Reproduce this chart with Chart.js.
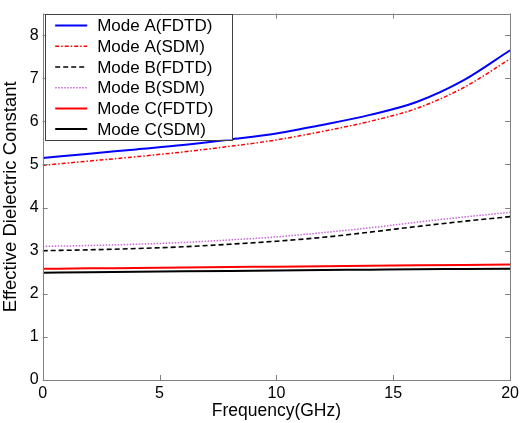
<!DOCTYPE html>
<html>
<head>
<meta charset="utf-8">
<script src="https://cdn.jsdelivr.net/npm/chart.js@4/dist/chart.umd.min.js"></script>
<style>
    html, body { margin: 0; padding: 0; background: #fff; }
    #chart { display: block; }
</style>
</head>
<body>
<canvas id="chart" width="523" height="423"></canvas>
<script>
// data
const freq = [0, 2, 4, 6, 8, 10, 12, 14, 16, 18, 20];
const modeAFdtd = [5.15, 5.25, 5.35, 5.45, 5.58, 5.72, 5.92, 6.15, 6.45, 6.95, 7.65];
const modeASdm  = [4.98, 5.08, 5.18, 5.29, 5.42, 5.57, 5.77, 6.00, 6.30, 6.78, 7.45];
const modeBFdtd = [3.00, 3.02, 3.05, 3.09, 3.15, 3.22, 3.31, 3.43, 3.56, 3.68, 3.79];
const modeBSdm  = [3.10, 3.12, 3.15, 3.19, 3.25, 3.32, 3.42, 3.53, 3.66, 3.78, 3.89];
const modeCFdtd = [2.58, 2.59, 2.60, 2.61, 2.62, 2.63, 2.64, 2.65, 2.66, 2.67, 2.68];
const modeCSdm  = [2.49, 2.50, 2.51, 2.52, 2.53, 2.54, 2.55, 2.56, 2.57, 2.575, 2.58];

const xTicks = [0, 5, 10, 15, 20];
const yTicks = [0, 1, 2, 3, 4, 5, 6, 7, 8];

const FONT = "'Liberation Sans', Arial, sans-serif";

function pts(values) {
    return freq.map((f, i) => ({ x: f, y: values[i] }));
}

function series(label, values, color, width, dash) {
    return {
        label: label,
        data: pts(values),
        borderColor: color,
        backgroundColor: color,
        borderWidth: width,
        borderDash: dash,
        pointRadius: 0,
        fill: false,
        cubicInterpolationMode: "monotone"
    };
}

// MATLAB-ish box, inward ticks and legend inside the axes
const boxPlugin = {
    id: "box",
    afterDraw(chart) {
        const ctx = chart.ctx;
        const a = chart.chartArea;
        const xs = chart.scales.x;
        const ys = chart.scales.y;
        ctx.save();
        ctx.strokeStyle = "#808080";
        ctx.lineWidth = 1;
        ctx.setLineDash([]);
        ctx.beginPath();
        xTicks.forEach(v => {
            const px = Math.round(xs.getPixelForValue(v)) + 0.5;
            ctx.moveTo(px, a.bottom); ctx.lineTo(px, a.bottom - 5);
            ctx.moveTo(px, a.top); ctx.lineTo(px, a.top + 5);
        });
        yTicks.forEach(v => {
            const py = Math.round(ys.getPixelForValue(v)) + 0.5;
            ctx.moveTo(a.left, py); ctx.lineTo(a.left + 5, py);
            ctx.moveTo(a.right, py); ctx.lineTo(a.right - 5, py);
        });
        ctx.stroke();
        ctx.strokeRect(Math.round(a.left) + 0.5, Math.round(a.top) + 0.5,
            Math.round(a.right - a.left), Math.round(a.bottom - a.top));

        // legend
        const lx = a.left + 2.5, ly = a.top, lw = 187, lh = 126;
        ctx.fillStyle = "#fff";
        ctx.fillRect(lx, ly, lw, lh);
        ctx.strokeStyle = "#404040";
        ctx.strokeRect(Math.round(lx) + 0.5, Math.round(ly) + 0.5, lw, lh);
        ctx.font = "17px " + FONT;
        ctx.textBaseline = "middle";
        chart.data.datasets.forEach((ds, i) => {
            const y = ly + 12 + i * 20.7;
            ctx.strokeStyle = ds.borderColor;
            ctx.lineWidth = ds.borderWidth;
            ctx.setLineDash(ds.borderDash || []);
            ctx.beginPath();
            ctx.moveTo(lx + 10, y);
            ctx.lineTo(lx + 42, y);
            ctx.stroke();
            ctx.setLineDash([]);
            ctx.fillStyle = "#000";
            ctx.fillText(ds.label, lx + 52, y + 1);
        });
        ctx.restore();
    }
};

new Chart(document.getElementById("chart"), {
    type: "line",
    data: {
        datasets: [
            series("Mode A(FDTD)", modeAFdtd, "#0000ff", 2, []),
            series("Mode A(SDM)", modeASdm, "#ff0000", 1.5, [4, 2, 1.5, 2]),
            series("Mode B(FDTD)", modeBFdtd, "#000000", 1.6, [5, 3]),
            series("Mode B(SDM)", modeBSdm, "#cc66dd", 1.5, [1.5, 1.5]),
            series("Mode C(FDTD)", modeCFdtd, "#ff0000", 2, []),
            series("Mode C(SDM)", modeCSdm, "#000000", 2, [])
        ]
    },
    options: {
        responsive: false,
        animation: false,
        layout: { padding: { top: 9.5, right: 10.7, left: 0, bottom: 0 } },
        plugins: {
            legend: { display: false },
            tooltip: { enabled: false }
        },
        scales: {
            x: {
                type: "linear",
                min: 0,
                max: 20,
                afterBuildTicks: s => { s.ticks = xTicks.map(v => ({ value: v })); },
                afterFit: s => { s.height = 43; },
                grid: { display: false, drawTicks: false },
                border: { display: false },
                ticks: { color: "#000", font: { family: FONT, size: 16 }, padding: 4, maxRotation: 0 },
                title: {
                    display: true,
                    text: "Frequency(GHz)",
                    color: "#000",
                    font: { family: FONT, size: 17.5 },
                    padding: { top: 0, bottom: 1 }
                }
            },
            y: {
                min: 0,
                max: 8.5,
                afterBuildTicks: s => { s.ticks = yTicks.map(v => ({ value: v })); },
                afterFit: s => { s.width = 42.7; },
                grid: { display: false, drawTicks: false },
                border: { display: false },
                ticks: { color: "#000", font: { family: FONT, size: 16 }, padding: 4 },
                title: {
                    display: true,
                    text: "Effective Dielectric Constant",
                    color: "#000",
                    font: { family: FONT, size: 18.5 },
                    padding: { top: 0, bottom: 0 }
                }
            }
        }
    },
    plugins: [boxPlugin]
});
</script>
</body>
</html>
